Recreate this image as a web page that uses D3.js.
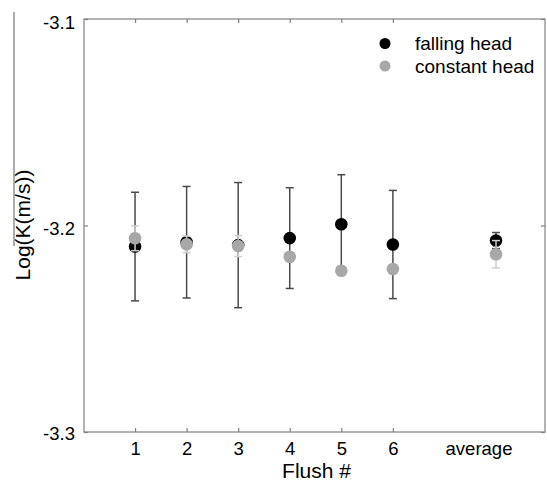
<!DOCTYPE html>
<html>
<head>
<meta charset="utf-8">
<script src="https://cdn.jsdelivr.net/npm/d3@7"></script>
<style>
  html, body { margin: 0; padding: 0; background: #fff; }
  svg { display: block; font-family: "Liberation Sans", Arial, sans-serif; }
</style>
</head>
<body>
<svg id="chart" width="547" height="482"></svg>
<script>
// ---- data ----
const positions = [1, 2, 3, 4, 5, 6, 8];
const categories = ["1", "2", "3", "4", "5", "6", "average"];
const fallingHead = [-3.2102, -3.2081, -3.2095, -3.2061, -3.1994, -3.2092, -3.2073];
const fallingErr  = [0.0263, 0.0270, 0.0303, 0.0244, 0.0240, 0.0262, 0.0039];
const constantHead = [-3.2062, -3.2091, -3.2099, -3.2151, -3.2219, -3.2211, -3.2139];
const constantErr  = [0.0060, 0.0040, 0.0051, 0.0020, 0.0020, 0.0020, 0.0066];
const yTicks = [-3.3, -3.2, -3.1];
const yTickLabels = ["-3.3", "-3.2", "-3.1"];
const xTicks = [1, 2, 3, 4, 5, 6];
const averageLabelPos = 7.67;
const seriesNames = ["falling head", "constant head"];

// ---- layout ----
const svg = d3.select("#chart");
const L = 84, R = 545, T = 19, B = 432;
const x = d3.scaleLinear().domain([0.01, 8.95]).range([L, R]);
const y = d3.scaleLinear().domain([-3.3, -3.1]).range([B, T]);

const frameColor = "#808080";
const tickFont = "18.5px";

// stray vertical line at left
svg.append("line").attr("x1", 14).attr("x2", 14).attr("y1", 12).attr("y2", 246)
  .attr("stroke", "#777").attr("stroke-width", 1.2);

// frame
svg.append("rect").attr("x", L).attr("y", T).attr("width", R - L).attr("height", B - T)
  .attr("fill", "none").attr("stroke", frameColor).attr("stroke-width", 1.2);

// axes (ticks inward, mirrored)
const tickLen = 4;
const bottomAxis = d3.axisBottom(x).tickValues(xTicks).tickFormat((d, i) => categories[i])
  .tickSizeInner(-tickLen).tickSizeOuter(0).tickPadding(13);
const gB = svg.append("g").attr("transform", `translate(0,${B})`).call(bottomAxis);
const topAxis = d3.axisTop(x).tickValues(xTicks).tickFormat("").tickSizeInner(-tickLen).tickSizeOuter(0);
const gT = svg.append("g").attr("transform", `translate(0,${T})`).call(topAxis);
const leftAxis = d3.axisLeft(y).tickValues(yTicks).tickFormat((d, i) => yTickLabels[i])
  .tickSizeInner(-tickLen).tickSizeOuter(0).tickPadding(13);
const gL = svg.append("g").attr("transform", `translate(${L},0)`).call(leftAxis);
const rightAxis = d3.axisRight(y).tickValues(yTicks).tickFormat("").tickSizeInner(-tickLen).tickSizeOuter(0);
const gR = svg.append("g").attr("transform", `translate(${R},0)`).call(rightAxis);

[gB, gT, gL, gR].forEach(g => {
  g.select(".domain").remove();
  g.selectAll(".tick line").attr("stroke", frameColor).attr("stroke-width", 1.2);
  g.selectAll(".tick text").attr("fill", "#000").style("font-size", tickFont)
    .style("font-family", "'Liberation Sans', Arial, sans-serif");
});
gL.selectAll(".tick text").attr("x", -9).attr("dy", "0.42em");
gL.selectAll(".tick text").filter(d => d === -3.1).attr("dy", "0.52em");
gL.selectAll(".tick text").filter(d => d === -3.2).attr("dy", "0.5em");
gB.selectAll(".tick text").attr("dy", "0.71em").attr("y", 10);

// "average" label (no tick)
svg.append("text").attr("x", x(averageLabelPos)).attr("y", B + 10).attr("dy", "0.71em")
  .attr("text-anchor", "middle").style("font-size", tickFont).text(categories[6]);

// axis titles
svg.append("text").attr("x", 316.5).attr("y", 478).attr("text-anchor", "middle")
  .style("font-size", "21px").text("Flush #");
svg.append("text").attr("transform", "translate(30,225) rotate(-90)").attr("text-anchor", "middle")
  .style("font-size", "21px").text("Log(K(m/s))");

// error bars + points
const capW = 4, r = 6.3;
function errbars(vals, errs, color) {
  const g = svg.append("g");
  vals.forEach((v, i) => {
    const cx = x(positions[i]);
    const y1 = y(v + errs[i]), y2 = y(v - errs[i]);
    g.append("line").attr("x1", cx).attr("x2", cx).attr("y1", y1).attr("y2", y2)
      .attr("stroke", color).attr("stroke-width", 1.5);
    [y1, y2].forEach(yy => g.append("line").attr("x1", cx - capW).attr("x2", cx + capW)
      .attr("y1", yy).attr("y2", yy).attr("stroke", color).attr("stroke-width", 1.5));
  });
}
function points(vals, color) {
  svg.append("g").selectAll("circle").data(vals).join("circle")
    .attr("cx", (d, i) => x(positions[i])).attr("cy", d => y(d)).attr("r", r).attr("fill", color);
}
errbars(fallingHead, fallingErr, "#4a4a4a");
points(fallingHead, "#000");
errbars(constantHead, constantErr, "#cfcfcf");
points(constantHead, "#a8a8a8");

// legend
const legend = svg.append("g");
const legendColors = ["#000", "#a8a8a8"];
seriesNames.forEach((name, i) => {
  const ly = 43.5 + i * 22.5;
  legend.append("circle").attr("cx", 385).attr("cy", ly).attr("r", 5.5).attr("fill", legendColors[i]);
  legend.append("text").attr("x", 415).attr("y", ly).attr("dy", "0.35em")
    .style("font-size", "19px").text(name);
});
</script>
</body>
</html>
